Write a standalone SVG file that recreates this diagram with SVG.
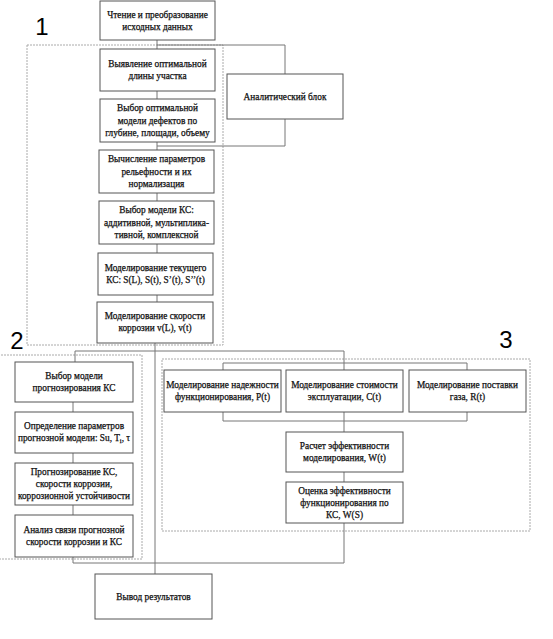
<svg xmlns="http://www.w3.org/2000/svg" width="553" height="639" viewBox="0 0 553 639">
<style>
.box{fill:#fff;stroke:#555;stroke-width:1}
.frame{fill:none;stroke:#aaa;stroke-width:1;stroke-dasharray:2 1}
.con{fill:none;stroke:#777;stroke-width:1}
text{font-family:"Liberation Serif","Times New Roman",serif;font-size:9.3px;fill:#111;stroke:#111;stroke-width:0.25;text-anchor:middle}
.num{font-family:"Liberation Sans",Arial,sans-serif;font-size:24px;fill:#000;stroke:none}
</style>
<rect width="553" height="639" fill="#fff"/>
<g id="frames">
<rect class="frame" x="27" y="45" width="196" height="300"/>
<rect class="frame" x="-2" y="355" width="144" height="204"/>
<rect class="frame" x="162" y="359" width="368" height="172"/>
</g>
<g id="labels">
<text class="num" x="42" y="35">1</text>
<text class="num" x="17" y="349">2</text>
<text class="num" x="506" y="348">3</text>
</g>
<g id="connectors">
<path class="con" d="M157 40V49M157 45H285V74M285 119V146H157M157 91V99M157 142V150M157 193V201M157 244V253M157 295V302"/>
<path class="con" d="M155 343V574M75 351H344V370M75 351V362M223 363H467M223 363V370M467 363V370"/>
<path class="con" d="M223 412V421H467V412M344 412V432M344 472V482M344 523V563H73V557M73 402V412M73 453V463M73 505V515"/>
</g>
<g id="n_read">
<rect class="box" x="100" y="1" width="115" height="39"/>
<text x="157.5" y="18">Чтение и преобразование</text>
<text x="157.5" y="30">исходных данных</text>
</g>
<g id="n_length">
<rect class="box" x="100" y="49" width="115" height="42"/>
<text x="157.5" y="67">Выявление оптимальной</text>
<text x="157.5" y="79">длины участка</text>
</g>
<g id="n_analytic">
<rect class="box" x="227" y="74" width="116" height="45"/>
<text x="285" y="100">Аналитический блок</text>
</g>
<g id="n_defects">
<rect class="box" x="100" y="99" width="115" height="43"/>
<text x="157.5" y="111">Выбор оптимальной</text>
<text x="157.5" y="123.5">модели дефектов по</text>
<text x="157.5" y="136">глубине, площади, объему</text>
</g>
<g id="n_relief">
<rect class="box" x="99" y="150" width="115" height="43"/>
<text x="156.5" y="162">Вычисление параметров</text>
<text x="156.5" y="174.5">рельефности и их</text>
<text x="156.5" y="187">нормализация</text>
</g>
<g id="n_model">
<rect class="box" x="99" y="201" width="115" height="43"/>
<text x="156.5" y="213">Выбор модели КС:</text>
<text x="156.5" y="225.5">аддитивной, мультиплика-</text>
<text x="156.5" y="238">тивной, комплексной</text>
</g>
<g id="n_current">
<rect class="box" x="98" y="253" width="115" height="42"/>
<text x="155.5" y="271">Моделирование текущего</text>
<text x="155.5" y="283">КС: S(L), S(t), S’(t), S’’(t)</text>
</g>
<g id="n_speed">
<rect class="box" x="97" y="302" width="116" height="41"/>
<text x="155" y="319">Моделирование скорости</text>
<text x="155" y="331">коррозии v(L), v(t)</text>
</g>
<g id="n_forecast_model">
<rect class="box" x="15" y="362" width="118" height="40"/>
<text x="74" y="379">Выбор модели</text>
<text x="74" y="391">прогнозирования КС</text>
</g>
<g id="n_params">
<rect class="box" x="15" y="412" width="118" height="41"/>
<text x="74" y="429">Определение параметров</text>
<text x="74" y="441">прогнозной модели: Su, T<tspan font-size="6.5" dy="2">i</tspan><tspan dy="-2">, τ</tspan></text>
</g>
<g id="n_forecast">
<rect class="box" x="15" y="463" width="118" height="42"/>
<text x="74" y="475">Прогнозирование КС,</text>
<text x="74" y="487">скорости коррозии,</text>
<text x="74" y="499">коррозионной устойчивости</text>
</g>
<g id="n_analysis">
<rect class="box" x="15" y="515" width="118" height="42"/>
<text x="74" y="533">Анализ связи  прогнозной</text>
<text x="74" y="545">скорости коррозии и КС</text>
</g>
<g id="n_reliability">
<rect class="box" x="164" y="370" width="117" height="42"/>
<text x="222.5" y="388">Моделирование надежности</text>
<text x="222.5" y="400">функционирования, P(t)</text>
</g>
<g id="n_cost">
<rect class="box" x="286" y="370" width="117" height="42"/>
<text x="344.5" y="388">Моделирование стоимости</text>
<text x="344.5" y="400">эксплуатации, C(t)</text>
</g>
<g id="n_gas">
<rect class="box" x="409" y="370" width="117" height="42"/>
<text x="467.5" y="388">Моделирование поставки</text>
<text x="467.5" y="400">газа, R(t)</text>
</g>
<g id="n_wt">
<rect class="box" x="286" y="432" width="117" height="40"/>
<text x="344.5" y="449">Расчет эффективности</text>
<text x="344.5" y="461">моделирования, W(t)</text>
</g>
<g id="n_ws">
<rect class="box" x="286" y="482" width="117" height="41"/>
<text x="344.5" y="494">Оценка эффективности</text>
<text x="344.5" y="506">функционирования по</text>
<text x="344.5" y="518">КС, W(S)</text>
</g>
<g id="n_output">
<rect class="box" x="95" y="574" width="117" height="45"/>
<text x="153.5" y="600">Вывод результатов</text>
</g>
</svg>
